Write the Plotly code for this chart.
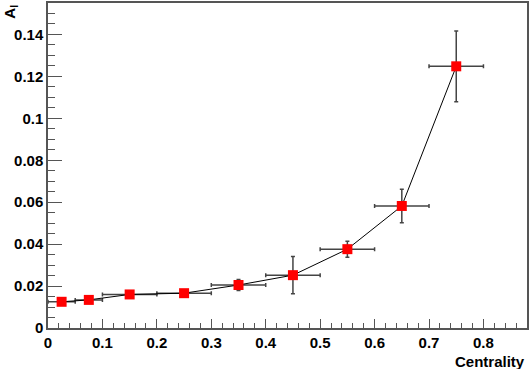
import plotly.graph_objects as go

centrality = [0.025, 0.075, 0.15, 0.25, 0.35, 0.45, 0.55, 0.65, 0.75]
x_err = [0.025, 0.025, 0.05, 0.05, 0.05, 0.05, 0.05, 0.05, 0.05]
a_l = [0.0125, 0.0134, 0.0160, 0.0166, 0.0205, 0.0252, 0.0376, 0.0582, 0.1248]
a_l_err = [0.0006, 0.0006, 0.0008, 0.0008, 0.0026, 0.0089, 0.0038, 0.0080, 0.0169]
x_ticks = [0, 0.1, 0.2, 0.3, 0.4, 0.5, 0.6, 0.7, 0.8]
x_tick_labels = ["0", "0.1", "0.2", "0.3", "0.4", "0.5", "0.6", "0.7", "0.8"]
y_ticks = [0, 0.02, 0.04, 0.06, 0.08, 0.1, 0.12, 0.14]
y_tick_labels = ["0", "0.02", "0.04", "0.06", "0.08", "0.1", "0.12", "0.14"]

font_family = "Liberation Sans, Arial, Helvetica, sans-serif"
axis_color = "#555555"

fig = go.Figure()
fig.add_trace(go.Scatter(
    x=centrality, y=a_l,
    mode="lines+markers",
    line=dict(color="black", width=1),
    marker=dict(symbol="square", size=10, color="red"),
    error_x=dict(type="data", array=x_err, color="#444444", thickness=1.5, width=2),
    error_y=dict(type="data", array=a_l_err, color="#444444", thickness=1.5, width=2),
    showlegend=False,
))

fig.update_layout(
    width=531, height=369,
    margin=dict(l=48, r=4, t=3, b=41),
    plot_bgcolor="white", paper_bgcolor="white",
    xaxis=dict(
        range=[0, 0.88], tickmode="array", tickvals=x_ticks, ticktext=x_tick_labels,
        ticks="inside", ticklen=9, tickwidth=1, tickcolor=axis_color,
        minor=dict(dtick=0.02, tick0=0, ticks="inside", ticklen=5, tickcolor=axis_color),
        showline=True, linecolor=axis_color, linewidth=1.5, mirror=True,
        showgrid=False, zeroline=False, automargin=False,
        tickfont=dict(family=font_family, size=15, color="black", weight="bold"),
    ),
    yaxis=dict(
        range=[0, 0.155], tickmode="array", tickvals=y_ticks, ticktext=y_tick_labels,
        ticks="inside", ticklen=14, tickwidth=1, tickcolor=axis_color,
        minor=dict(dtick=0.005, tick0=0, ticks="inside", ticklen=7, tickcolor=axis_color),
        showline=True, linecolor=axis_color, linewidth=1.5, mirror=True,
        showgrid=False, zeroline=False, automargin=False,
        tickfont=dict(family=font_family, size=15, color="black", weight="bold"),
    ),
    annotations=[
        dict(text="Centrality", xref="paper", yref="paper", x=1, y=-0.07,
             xanchor="right", yanchor="top", showarrow=False,
             font=dict(family=font_family, size=15, color="black", weight="bold")),
        dict(text="A<sub>l</sub>", xref="paper", yref="paper", x=-0.08, y=1.0,
             xanchor="center", yanchor="top", textangle=-90, showarrow=False,
             font=dict(family=font_family, size=15, color="black", weight="bold")),
    ],
)

fig.write_html("out.html", config={"displayModeBar": False},
               post_script="document.body.style.margin='0';document.body.style.overflow='hidden';")
